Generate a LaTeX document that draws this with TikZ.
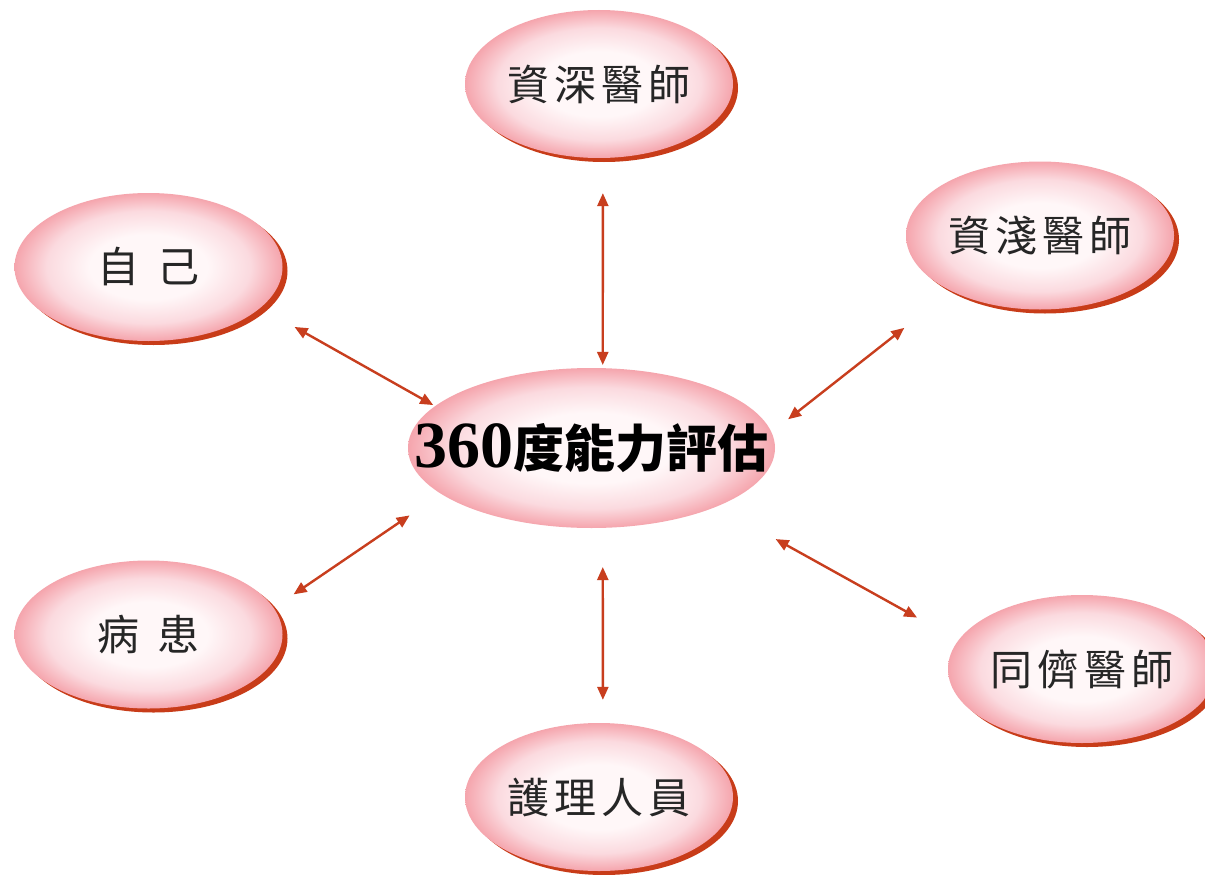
\documentclass[tikz,border=0pt]{standalone}
\usepackage{fontspec}
\usetikzlibrary{arrows.meta,shapes.geometric,shadows}
\newfontfamily\cjk{Noto Sans CJK TC}
\newfontfamily\digs{Liberation Serif}
\definecolor{pinkin}{RGB}{255,247,248}
\definecolor{pinkmid}{RGB}{251,218,223}
\definecolor{pinkout}{RGB}{245,165,173}
\definecolor{arrc}{RGB}{200,62,30}
\definecolor{shadc}{RGB}{200,60,25}
\pgfdeclareradialshading{ellshade}{\pgfpoint{0bp}{0bp}}{color(0bp)=(pinkin); color(11bp)=(pinkin); color(19bp)=(pinkmid); color(25bp)=(pinkout); color(50bp)=(pinkout)}
\tikzset{
  ell/.style={ellipse, inner sep=0pt, shade, shading=ellshade},
  outerell/.style={ell, minimum width=268pt, minimum height=148pt,
    drop shadow={shadow xshift=5pt, shadow yshift=-4pt, fill=shadc, opacity=1}},
  hub/.style={ell, minimum width=367pt, minimum height=160pt},
  lab/.style={font=\cjk\fontsize{42}{50}\selectfont, text=black!85},
  hubtext/.style={inner sep=0pt},
  arr/.style={arrc, line width=2.4pt, {Triangle[length=13pt,width=11pt]}-{Triangle[length=13pt,width=11pt]}},
}
\newcommand\hubtxt{{\digs\bfseries\fontsize{66}{70}\selectfont 360}{\cjk\bfseries\fontsize{51}{56}\selectfont 度能力評估}}
\begin{document}
\begin{tikzpicture}[x=1pt,y=-1pt]
\useasboundingbox[fill=white] (0,0) rectangle (1205,875);
\node[outerell,lab] (A) at (599,84) {資\hspace{5pt}深\hspace{5pt}醫\hspace{5pt}師};
\node[outerell,lab] (B) at (1040,235.5) {資\hspace{5pt}淺\hspace{5pt}醫\hspace{5pt}師};
\node[outerell,lab] (Z) at (148.5,267) {自\hspace{18pt}己};
\node[outerell,lab] (P) at (148.5,634.5) {病\hspace{18pt}患};
\node[outerell,lab] (T) at (1082,669) {同\hspace{5pt}儕\hspace{5pt}醫\hspace{5pt}師};
\node[outerell,lab] (N) at (599,797) {護\hspace{5pt}理\hspace{5pt}人\hspace{5pt}員};
\node[hub] (C) at (591.5,448) {};
\node[hubtext,text=black] (Ct) at (C.center) {\hubtxt};
\draw[arr, shorten <=2pt, shorten >=39pt] (C.165) -- (Z.-20.9);
\draw[arr, shorten <=21pt, shorten >=59.5pt] (C.5.5) -- (B.-148.7);
\draw[arr, shorten <=38pt, shorten >=24pt] (C.-163.6) -- (P.12.8);
\draw[arr, shorten <=67pt, shorten >=47pt] (C.-25.6) -- (T.167.7);
\draw[arr, shorten <=3pt, shorten >=35pt] (C.82.5) -- (A.-87.7);
\draw[arr, shorten <=39pt, shorten >=23pt] (C.-82.5) -- (N.87.7);
\end{tikzpicture}
\end{document}
